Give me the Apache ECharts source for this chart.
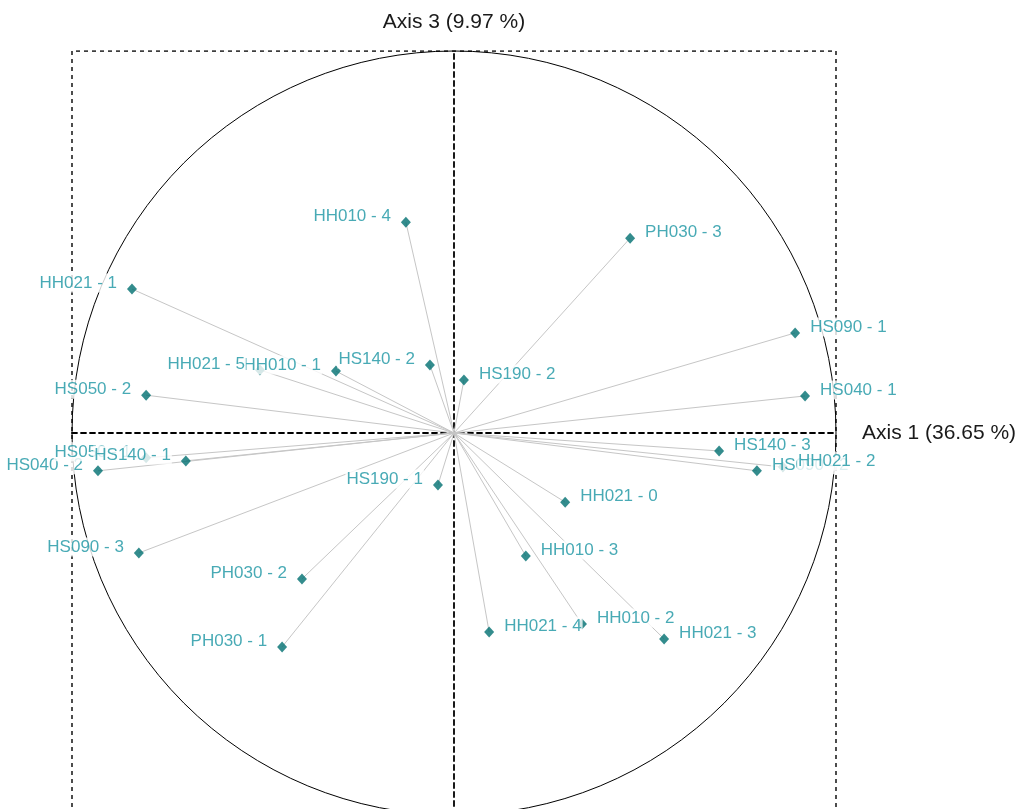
<!DOCTYPE html>
<html>
<head>
<meta charset="utf-8">
<script src="https://cdn.jsdelivr.net/npm/echarts@6/dist/echarts.min.js"></script>
<style>
  html, body { margin: 0; padding: 0; background: #ffffff; }
  #chart { width: 1021px; height: 809px; }
</style>
</head>
<body>
<div id="chart"></div>
<script>
// Correlation circle: variable loadings on Axis 1 (horizontal) and Axis 3 (vertical).
// Order matters: later labels are painted over earlier ones.
const variableNames = [
  'HH010 - 4', 'PH030 - 3', 'HH021 - 1', 'HS090 - 1', 'HH010 - 1', 'HH021 - 5',
  'HS140 - 2', 'HS190 - 2', 'HS050 - 2', 'HS040 - 1', 'HS140 - 3', 'HS090 - 2',
  'HH021 - 2', 'HS040 - 2', 'HS050 - 1', 'HS140 - 1', 'HS190 - 1', 'HH021 - 0',
  'HS090 - 3', 'HH010 - 3', 'PH030 - 2', 'PH030 - 1', 'HH021 - 4', 'HH010 - 2',
  'HH021 - 3'
];
const axis1Loadings = [
  -0.126, 0.461, -0.843, 0.893, -0.309, -0.508,
  -0.063, 0.026, -0.806, 0.919, 0.694, 0.793,
  0.861, -0.932, -0.806, -0.702, -0.042, 0.291,
  -0.825, 0.188, -0.398, -0.450, 0.092, 0.335,
  0.550
];
const axis3Loadings = [
  0.552, 0.510, 0.377, 0.262, 0.162, 0.165,
  0.178, 0.139, 0.099, 0.097, -0.047, -0.099,
  -0.089, -0.099, -0.065, -0.073, -0.136, -0.181,
  -0.314, -0.322, -0.382, -0.560, -0.521, -0.500,
  -0.539
];
const axisTitles = ['Axis 1 (36.65 %)', 'Axis 3 (9.97 %)'];
// Unit frame around the circle.
const frameCorners = [[-1, -1], [-1, 1], [1, 1], [1, -1], [-1, -1]];

const FONT = '"Liberation Sans", Arial, sans-serif';
const LABEL_COLOR = '#1a95a2';
const MARK_COLOR = '#006f70';

// Names sit left of variables on the negative side, right of them otherwise.
const points = variableNames.map((name, i) => ({
  name: name,
  value: [axis1Loadings[i], axis3Loadings[i]],
  label: { position: axis1Loadings[i] < 0 ? 'left' : 'right' }
}));

const chart = echarts.init(document.getElementById('chart'), null, { renderer: 'canvas' });

const dashedAxisLine = { show: true, onZero: true, lineStyle: { color: '#000', width: 1.8, type: [5, 4] } };

chart.setOption({
  animation: false,
  backgroundColor: '#ffffff',
  grid: { left: 72, top: 51, width: 764, height: 764, containLabel: false, outerBoundsMode: 'none' },
  xAxis: {
    type: 'value', min: -1, max: 1,
    axisLine: dashedAxisLine,
    axisTick: { show: false }, axisLabel: { show: false }, splitLine: { show: false },
    name: axisTitles[0], nameLocation: 'end', nameGap: 26,
    nameTextStyle: { fontSize: 21, color: '#1a1a1a', fontFamily: FONT, verticalAlign: 'middle', padding: [5, 0, 0, 0] }
  },
  yAxis: {
    type: 'value', min: -1, max: 1,
    axisLine: dashedAxisLine,
    axisTick: { show: false }, axisLabel: { show: false }, splitLine: { show: false },
    name: axisTitles[1], nameLocation: 'end', nameGap: 18,
    nameTextStyle: { fontSize: 21, color: '#1a1a1a', fontFamily: FONT }
  },
  series: [
    {
      // dashed frame
      type: 'line', data: frameCorners, symbol: 'none', silent: true, z: 1,
      lineStyle: { color: '#000', width: 1.4, type: [4, 4] }
    },
    {
      // spokes from the origin to each variable
      type: 'custom', silent: true, z: 2,
      data: points.map(p => p.value),
      encode: { x: 0, y: 1 },
      renderItem: function (params, api) {
        const o = api.coord([0, 0]);
        const p = api.coord([api.value(0), api.value(1)]);
        return {
          type: 'line',
          shape: { x1: o[0], y1: o[1], x2: p[0], y2: p[1] },
          style: { stroke: '#c6c6c6', lineWidth: 1 }
        };
      }
    },
    {
      type: 'scatter', z: 3, silent: true,
      symbol: 'diamond', symbolSize: [10, 11],
      itemStyle: { color: MARK_COLOR },
      data: points,
      label: {
        show: true, formatter: '{b}', distance: 9,
        color: LABEL_COLOR, fontSize: 17, fontFamily: FONT,
        backgroundColor: '#ffffff', padding: [1, 1]
      },
      // names are raised slightly above their markers
      labelLayout: { hideOverlap: false, dy: -6 }
    }
  ]
});

// Unit circle, placed through the grid's own scale.
const origin = chart.convertToPixel({ gridIndex: 0 }, [0, 0]);
const unit = chart.convertToPixel({ gridIndex: 0 }, [1, 0]);
chart.setOption({
  graphic: [{
    type: 'circle', silent: true, z: 0,
    shape: { cx: origin[0], cy: origin[1], r: unit[0] - origin[0] },
    style: { fill: 'none', stroke: '#000', lineWidth: 1 }
  }]
});
</script>
</body>
</html>
